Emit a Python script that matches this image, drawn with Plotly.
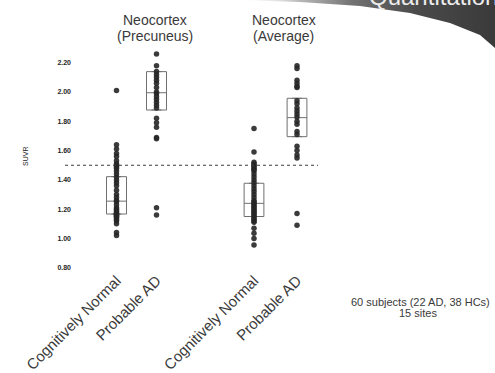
import plotly.graph_objects as go

# ---- figure geometry (pixels) ----
W, H = 495, 373


def px(x):
    return x / W


def py(y):
    return 1 - y / H


# ---- data ----
groups = ["Cognitively Normal", "Probable AD"]
region_line1 = ["Neocortex", "Neocortex"]
region_line2 = ["(Precuneus)", "(Average)"]

y_ticks = [0.80, 1.00, 1.20, 1.40, 1.60, 1.80, 2.00, 2.20]
threshold = 1.50

precuneus_cn = [2.01, 1.64, 1.61, 1.58, 1.56, 1.53, 1.51, 1.50, 1.49, 1.48,
                1.46, 1.44, 1.42, 1.40, 1.38, 1.36, 1.33, 1.30, 1.28, 1.26,
                1.25, 1.23, 1.21, 1.20, 1.19, 1.18, 1.17, 1.17, 1.16, 1.16,
                1.15, 1.15, 1.14, 1.13, 1.12, 1.10, 1.04, 1.02]
precuneus_ad = [2.26, 2.18, 2.14, 2.12, 2.10, 2.08, 2.06, 2.03, 2.00, 1.99,
                1.97, 1.95, 1.93, 1.91, 1.89, 1.82, 1.79, 1.76, 1.69, 1.68,
                1.21, 1.16]
average_cn = [1.75, 1.59, 1.52, 1.51, 1.50, 1.49, 1.48, 1.47, 1.46, 1.44,
              1.42, 1.40, 1.38, 1.36, 1.34, 1.32, 1.30, 1.28, 1.26, 1.25,
              1.24, 1.23, 1.22, 1.21, 1.20, 1.19, 1.18, 1.17, 1.16, 1.15,
              1.14, 1.13, 1.12, 1.11, 1.07, 1.035, 1.00, 0.955]
average_ad = [2.18, 2.16, 2.08, 2.06, 2.04, 2.03, 1.94, 1.92, 1.89, 1.87,
              1.85, 1.83, 1.80, 1.78, 1.73, 1.71, 1.63, 1.60, 1.57, 1.55,
              1.17, 1.09]

# box summaries (CN, AD)
precuneus_q1 = [1.167, 1.877]
precuneus_median = [1.255, 1.995]
precuneus_q3 = [1.422, 2.139]
average_q1 = [1.150, 1.695]
average_median = [1.240, 1.825]
average_q3 = [1.377, 1.957]

note_line1 = "60 subjects (22 AD, 38 HCs)"
note_line2 = "15 sites"
header_text = "Quantitation"

# ---- styles ----
POINT_COLOR = "#262626"
BOX_COLOR = "#707070"
TEXT_COLOR = "#3a3a3a"
FONT = "Liberation Sans, Arial, sans-serif"

fig = go.Figure()

# decorative header swoosh in pixel coordinates (x3 / y3)
swoosh_x = [235, 300, 360, 410, 450, 480, 495, 495, 235]
swoosh_y = [0, 2, 6, 13, 23, 35, 48, 0, 0]
fig.add_trace(go.Scatter(
    x=swoosh_x, y=swoosh_y, mode="lines", fill="toself",
    line=dict(width=0, color="rgba(0,0,0,0)"),
    fillgradient=dict(type="horizontal",
                      colorscale=[[0, "rgba(255,255,255,0)"],
                                  [0.25, "rgba(175,175,175,0.9)"],
                                  [0.45, "#727272"],
                                  [0.7, "#4a4a4a"],
                                  [1, "#3a3a3a"]]),
    xaxis="x3", yaxis="y3", hoverinfo="skip", showlegend=False,
))


def add_region(cn, ad, q1, med, q3, xa, ya, box_width):
    fig.add_trace(go.Box(
        x=groups, q1=q1, median=med, q3=q3, lowerfence=q1, upperfence=q3,
        boxpoints=False, fillcolor="rgba(0,0,0,0)",
        line=dict(color=BOX_COLOR, width=1), width=box_width,
        xaxis=xa, yaxis=ya, showlegend=False, hoverinfo="skip",
    ))
    fig.add_trace(go.Scatter(
        x=[groups[0]] * len(cn) + [groups[1]] * len(ad),
        y=cn + ad, mode="markers",
        marker=dict(size=5.5, color=POINT_COLOR, opacity=0.9),
        xaxis=xa, yaxis=ya, showlegend=False,
    ))


add_region(precuneus_cn, precuneus_ad, precuneus_q1, precuneus_median,
           precuneus_q3, "x", "y", 0.5)
add_region(average_cn, average_ad, average_q1, average_median,
           average_q3, "x2", "y2", 0.46)

# ---- axes ----
y_domain = [py(275.1), py(48.05)]
y_range = [0.75, 2.30]

xcommon = dict(type="category", categoryorder="array", categoryarray=groups,
               showline=False, showgrid=False, zeroline=False, ticks="",
               automargin=False, tickangle=-45, ticklabelstandoff=-7,
               tickfont=dict(family=FONT, size=15, color=TEXT_COLOR))

fig.update_layout(
    width=W, height=H,
    margin=dict(l=0, r=0, t=0, b=0, autoexpand=False),
    paper_bgcolor="white", plot_bgcolor="rgba(0,0,0,0)",
    xaxis=dict(domain=[px(72), px(176.5)], range=[-1.1125, 1.5],
               anchor="y", **xcommon),
    xaxis2=dict(domain=[px(232.5), px(318.5)], range=[-0.5, 1.5],
                anchor="y2", **xcommon),
    yaxis=dict(domain=y_domain, range=y_range, anchor="x", automargin=False,
               tickvals=y_ticks, tickformat=".2f", ticks="",
               showgrid=False, zeroline=False, showline=False,
               tickfont=dict(family="Liberation Sans, Arial", size=7,
                             color="#1e1e1e", weight="bold")),
    yaxis2=dict(domain=y_domain, range=y_range, anchor="x2", matches="y",
                automargin=False, showticklabels=False, ticks="",
                showgrid=False, zeroline=False, showline=False),
    xaxis3=dict(domain=[0, 1], range=[0, W], visible=False, anchor="y3",
                automargin=False),
    yaxis3=dict(domain=[0, 1], range=[H, 0], visible=False, anchor="x3",
                automargin=False),
)

# threshold line across both regions
fig.add_shape(type="line", xref="paper", yref="y",
              x0=px(65), x1=px(318), y0=threshold, y1=threshold,
              line=dict(color="#3c3c3c", width=1.2, dash="dot"))

annotations = []
# region titles
for cx, l1, l2 in zip([155, 283.5], region_line1, region_line2):
    annotations.append(dict(x=px(cx), y=py(20), xref="paper", yref="paper",
                            text=l1, showarrow=False, xanchor="center",
                            yanchor="middle",
                            font=dict(family=FONT, size=14, color=TEXT_COLOR)))
    annotations.append(dict(x=px(cx), y=py(36), xref="paper", yref="paper",
                            text=l2, showarrow=False, xanchor="center",
                            yanchor="middle",
                            font=dict(family=FONT, size=14, color=TEXT_COLOR)))

# y axis title
annotations.append(dict(x=px(25), y=py(157), xref="paper", yref="paper",
                        text="SUVR", textangle=-90, showarrow=False,
                        xanchor="center", yanchor="middle",
                        font=dict(family=FONT, size=7, color="#1e1e1e")))

# study note
annotations.append(dict(x=px(420), y=py(302), xref="paper", yref="paper",
                        text=note_line1, showarrow=False, xanchor="center",
                        yanchor="middle",
                        font=dict(family=FONT, size=11, color=TEXT_COLOR)))
annotations.append(dict(x=px(418), y=py(313), xref="paper", yref="paper",
                        text=note_line2, showarrow=False, xanchor="center",
                        yanchor="middle",
                        font=dict(family=FONT, size=11, color=TEXT_COLOR)))

# header text on the swoosh
annotations.append(dict(x=433, y=12, xref="x3", yref="y3", text=header_text,
                        showarrow=False, xanchor="center", yanchor="bottom",
                        font=dict(family=FONT, size=24, color="#ececec")))

fig.update_layout(annotations=annotations)

fig.write_html("out.html")
